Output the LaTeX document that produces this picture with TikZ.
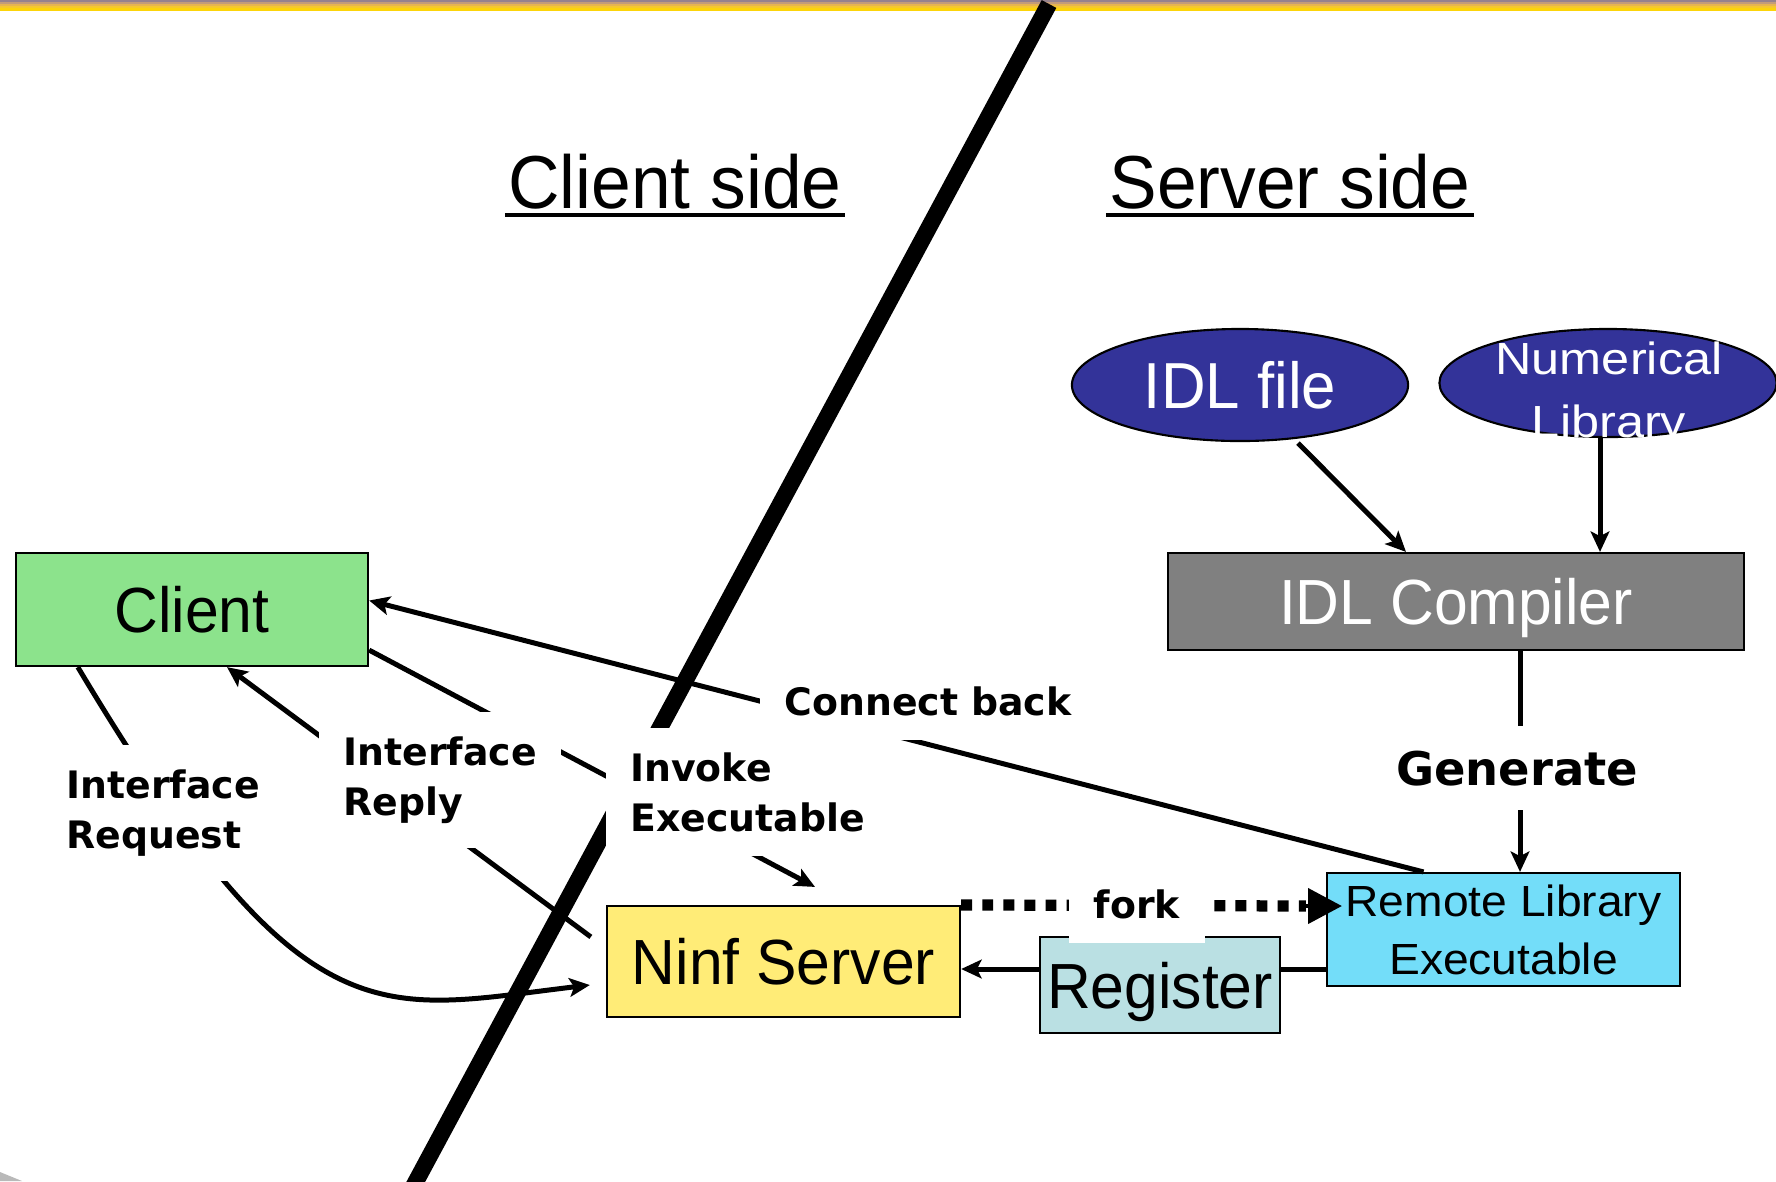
\documentclass[tikz,border=0pt]{standalone}
\usepackage{fontspec}
\usetikzlibrary{arrows.meta,calc,shapes.geometric}
\setmainfont{Liberation Sans}
\newfontfamily\tah[FakeStretch=0.95]{Liberation Sans}
\newfontfamily\tahr[FakeStretch=1.06]{Liberation Sans}
\newfontfamily\tahn[FakeStretch=1.12]{Liberation Sans}
\newfontfamily\lblfont{DejaVu Sans}
\definecolor{cgreen}{RGB}{140,227,140}
\definecolor{cyellow}{RGB}{255,236,119}
\definecolor{creg}{RGB}{186,224,227}
\definecolor{cremote}{RGB}{115,221,249}
\definecolor{cgrey}{RGB}{128,128,128}
\definecolor{cblue}{RGB}{51,51,153}
\definecolor{band1}{RGB}{150,130,140}
\definecolor{band2}{RGB}{195,155,120}
\definecolor{band3}{RGB}{230,180,80}
\definecolor{band4}{RGB}{245,200,45}
\definecolor{band5}{RGB}{252,212,10}
\begin{document}
\begin{tikzpicture}[x=0.01cm,y=-0.01cm,
  box/.style={draw=black, line width=0.6pt, inner sep=0pt, text depth=0pt,
    font=\tah\fontsize{18.15}{20}\selectfont},
  oval/.style={ellipse, draw=black, line width=0.6pt, fill=cblue, inner sep=0pt, text=white},
  conn/.style={line width=1.42pt, -{Stealth[length=5.8pt,width=5.3pt,inset=1.3pt]}},
  lbl/.style={fill=white, inner sep=7pt, align=left,
    font=\lblfont\bfseries\fontsize{10.75}{14.2}\selectfont},
  title/.style={inner sep=0pt, font=\tah\fontsize{21.35}{24}\selectfont},
  forkdots/.style={line width=3.2pt, dash pattern=on 3.1pt off 2.9pt},
]
\useasboundingbox (0,0) rectangle (1776,1181);
\clip (0,0) rectangle (1776,1181);
% top band
\fill[band1] (0,0) rectangle (1776,2);
\fill[band2] (0,2) rectangle (1776,4);
\fill[band3] (0,4) rectangle (1776,6);
\fill[band4] (0,6) rectangle (1776,8);
\fill[band5] (0,8) rectangle (1776,11);
% bottom-left artifact
\fill[gray!55] (0,1172) -- (22,1181) -- (0,1181) -- cycle;

% titles
\node[title, anchor=base] (ctitle) at (675,208) {Client side};
\draw[line width=1.13pt] ($(ctitle.base west)+(-3,7)$) -- ($(ctitle.base east)+(3,7)$);
\node[title, anchor=base] (stitle) at (1290,208) {Server side};
\draw[line width=1.13pt] ($(stitle.base west)+(-3,7)$) -- ($(stitle.base east)+(3,7)$);

% dividing line
\draw[line width=4.7pt] (1049,4) -- (413,1187);

% boxes
\node[box, fill=cgreen, minimum width=3.52cm, minimum height=1.13cm] (client) at (192,609.5) {Client};
\node[box, fill=cyellow, minimum width=3.53cm, minimum height=1.11cm] (ninf) at (783.5,961.5) {Ninf Server};
\node[box, fill=cremote, minimum width=3.53cm, minimum height=1.13cm, align=center,
  font=\tahr\fontsize{12.4}{16.45}\selectfont] (remote) at (1503.5,929.5) {Remote Library\\Executable};
\node[box, fill=cgrey, text=white, minimum width=5.76cm, minimum height=0.97cm] (idlc) at (1456,601.5) {IDL Compiler};
\node[oval, minimum width=3.36cm, minimum height=1.12cm, font=\tah\fontsize{18.5}{20}\selectfont] (idlfile) at (1240,385) {IDL file};
\node[oval, minimum width=3.37cm, minimum height=1.08cm] (numlib) at (1608,383) {};
\node[text=white, inner sep=0pt, align=center, font=\tahn\fontsize{12.8}{17.9}\selectfont] (numlibtext) at (1609,394) {Numerical\\Library};

% connectors
\draw[conn] ($(remote.north)+(-80,0)$) -- ($(client.east)+(0,-9)$);
\draw[conn] ($(client.south east)+(0,-17)$) -- ($(ninf.north)+(31.5,-18)$);
\draw[conn] ($(ninf.north west)+(-15,32)$) -- ($(client.south)+(35,0)$);
\draw[conn] ($(client.south west)+(63,0)$) .. controls ($(client.south west)+(290,380)$) and ($(ninf.west)+(-227,48.5)$) .. ($(ninf.west)+(-16,23.5)$);
\draw[conn] ($(idlfile.south)+(58,1)$) -- ($(idlc.north)+(-50,0)$);
\draw[conn] ($(numlib.south)+(-8,0)$) -- ($(idlc.north)+(144,0)$);
\draw[conn] ($(idlc.south)+(64,0)$) -- ($(remote.north)+(16.5,0)$);
\draw[conn] ($(remote.west)+(0,39.5)$) -- ($(ninf.east)+(0,7.5)$);
\draw[forkdots] (ninf.north east) -- ($(remote.west)+(-20,-23.5)$);
\draw[line width=1pt, -{Triangle[length=9.6pt,width=10pt]}] ($(remote.west)+(-24,-23.5)$) -- ($(remote.west)+(16,-23.5)$);

\node[box, fill=creg, minimum width=2.4cm, minimum height=0.96cm] (register) at (1160,985) {Register};

% labels
\node[lbl, anchor=base] (connect) at (928,715) {Connect back};
\node[lbl, anchor=base, font=\lblfont\bfseries\fontsize{13.2}{16}\selectfont] (generate) at (1517,785) {Generate};
\node[lbl, anchor=base] (fork) at (1137,918) {fork};
\node[lbl, anchor=west] (ireq) at (41,813) {Interface\\Request};
\node[lbl, anchor=west] (irep) at (318,780) {Interface\\Reply};
\node[lbl, anchor=west] (invoke) at (605,792) {Invoke\\Executable};
\end{tikzpicture}
\end{document}
